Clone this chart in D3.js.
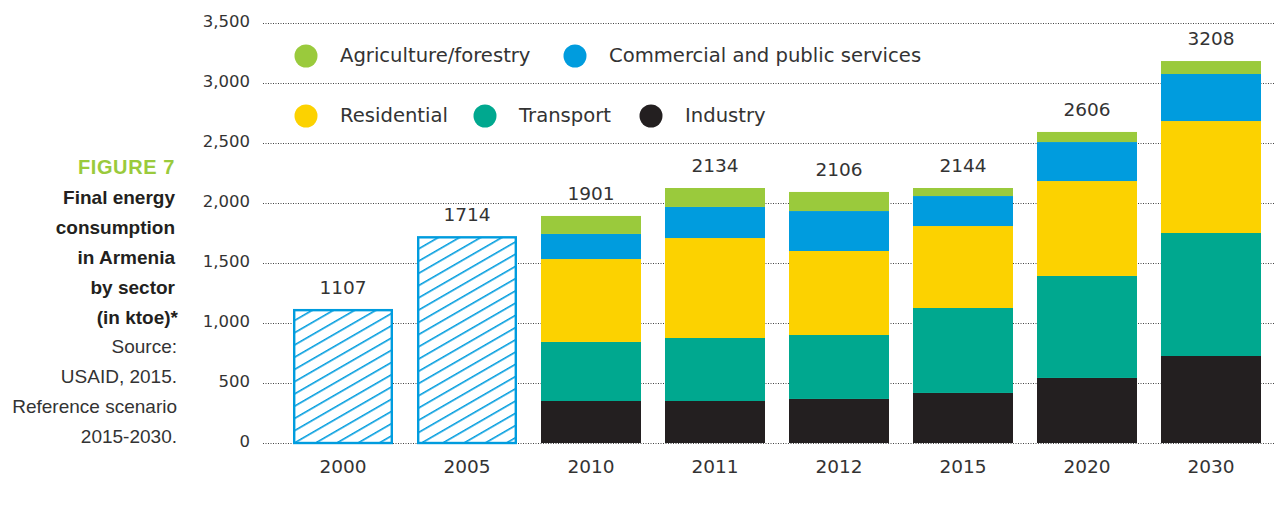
<!DOCTYPE html>
<html><head><meta charset="utf-8">
<script src="https://cdn.jsdelivr.net/npm/d3@7"></script>
<style>body{margin:0;background:#fff;} svg{display:block;}</style>
</head><body>
<svg id="chart" width="1275" height="514"></svg>
<script>
const years = ["2000","2005","2010","2011","2012","2015","2020","2030"];
const totals = [1107,1714,1901,2134,2106,2144,2606,3208];
const industry    = [null,null,350,350,367,417,542,725];
const transport   = [null,null,492,525,533,708,850,1025];
const residential = [null,null,691,833,700,683,791,933];
const commercial  = [null,null,209,259,333,250,325,392];
const agriculture = [null,null,150,158,159,67,84,108];
const yTicks = [0,500,1000,1500,2000,2500,3000,3500];
const seriesNames = ["Industry","Transport","Residential","Commercial and public services","Agriculture/forestry"];
const seriesColors = ["#231f20","#00a88f","#fcd200","#009cde","#9aca3c"];
const titleLines = ["Final energy","consumption","in Armenia","by sector","(in ktoe)*"];
const sourceLines = ["Source:","USAID, 2015.","Reference scenario","2015-2030."];

const svg = d3.select("#chart");
const textColor = "#333";

const x = d3.scaleBand().domain(years).range([281,1273]).paddingInner(24/124).paddingOuter(12/124);
const y = d3.scaleLinear().domain([0,3500]).range([443,23]);

// defs: hatch
const defs = svg.append("defs");
const pat = defs.append("pattern").attr("id","hatch").attr("patternUnits","userSpaceOnUse")
  .attr("width",10.6).attr("height",10.6).attr("patternTransform","rotate(-30)");
pat.append("rect").attr("width",10.6).attr("height",10.6).attr("fill","#fff");
pat.append("line").attr("x1",0).attr("y1",0).attr("x2",10.6).attr("y2",0)
  .attr("stroke","#009cde").attr("stroke-width",3.2);

// grid
svg.append("g").selectAll("line").data(yTicks).join("line")
  .attr("x1",263).attr("x2",1275).attr("y1",d=>y(d)+0.5).attr("y2",d=>y(d)+0.5)
  .attr("stroke","#444").attr("stroke-width",1).attr("stroke-dasharray","1,1.5");

// y labels
svg.append("g").selectAll("text").data(yTicks).join("text")
  .attr("x",250).attr("y",d=>y(d)-2).attr("dy","0.35em").attr("text-anchor","end")
  .attr("font-family","DejaVu Sans").attr("font-size",16.5).attr("fill",textColor)
  .text(d=>d3.format(",")(d));

// hatched bars
const hatchIdx = years.map((d,i)=>i).filter(i=>industry[i]===null);
svg.append("g").selectAll("rect").data(hatchIdx).join("rect")
  .attr("x",i=>x(years[i])+1.2).attr("width",x.bandwidth()-2.4)
  .attr("y",i=>y(totals[i])).attr("height",i=>y(0)-y(totals[i]))
  .attr("fill","url(#hatch)").attr("stroke","#009cde").attr("stroke-width",2.4);

// stacked bars
const series = [industry,transport,residential,commercial,agriculture];
const stackIdx = years.map((d,i)=>i).filter(i=>industry[i]!==null);
const rows = stackIdx.map(i=>{const o={year:years[i]}; series.forEach((s,k)=>o[k]=s[i]); return o;});
const stacked = d3.stack().keys(d3.range(series.length))(rows);
svg.append("g").selectAll("g").data(stacked).join("g").attr("fill",(d,k)=>seriesColors[k])
  .selectAll("rect").data(d=>d).join("rect")
  .attr("x",d=>x(d.data.year)).attr("width",x.bandwidth())
  .attr("y",d=>y(d[1])).attr("height",d=>y(d[0])-y(d[1]));

// total labels
const topVal = i => industry[i]===null ? totals[i] : series.reduce((a,s)=>a+s[i],0);
svg.append("g").selectAll("text").data(years.map((d,i)=>i)).join("text")
  .attr("x",i=>x(years[i])+x.bandwidth()/2).attr("y",i=>y(topVal(i))-16)
  .attr("text-anchor","middle").attr("font-family","DejaVu Sans").attr("font-size",18.5)
  .attr("fill",textColor).text(i=>totals[i]);

// x labels
svg.append("g").selectAll("text").data(years).join("text")
  .attr("x",d=>x(d)+x.bandwidth()/2).attr("y",473).attr("text-anchor","middle")
  .attr("font-family","DejaVu Sans").attr("font-size",18.5).attr("fill",textColor).text(d=>d);

// legend
const legendItems = [
  {k:4,cx:306,cy:56},{k:3,cx:575,cy:56},
  {k:2,cx:306,cy:116},{k:1,cx:485,cy:116},{k:0,cx:651,cy:116}
];
const lg = svg.append("g").selectAll("g").data(legendItems).join("g");
lg.append("circle").attr("cx",d=>d.cx).attr("cy",d=>d.cy).attr("r",11.5).attr("fill",d=>seriesColors[d.k]);
lg.append("text").attr("x",d=>d.cx+34).attr("y",d=>d.cy-1).attr("dy","0.35em")
  .attr("font-family","DejaVu Sans").attr("font-size",19.6).attr("fill",textColor)
  .text(d=>seriesNames[d.k]);

// left caption
const cap = svg.append("g");
cap.append("text").attr("x",175).attr("y",174).attr("text-anchor","end")
  .attr("font-family","Liberation Sans Narrow, Liberation Sans").attr("font-weight","bold")
  .attr("font-size",20).attr("letter-spacing","0.6").attr("fill","#9aca3c").text("FIGURE 7");
cap.selectAll(".t").data(titleLines).join("text").attr("class","t")
  .attr("x",(d,i)=>i===4?178:175).attr("y",(d,i)=>204+i*30).attr("text-anchor","end")
  .attr("font-family","Liberation Sans Narrow, Liberation Sans").attr("font-weight","bold")
  .attr("font-size",19).attr("fill","#231f20").text(d=>d);
cap.selectAll(".s").data(sourceLines).join("text").attr("class","s")
  .attr("x",177).attr("y",(d,i)=>353+i*30).attr("text-anchor","end")
  .attr("font-family","Liberation Sans").attr("font-size",19).attr("fill",textColor).text(d=>d);
</script>
</body></html>
